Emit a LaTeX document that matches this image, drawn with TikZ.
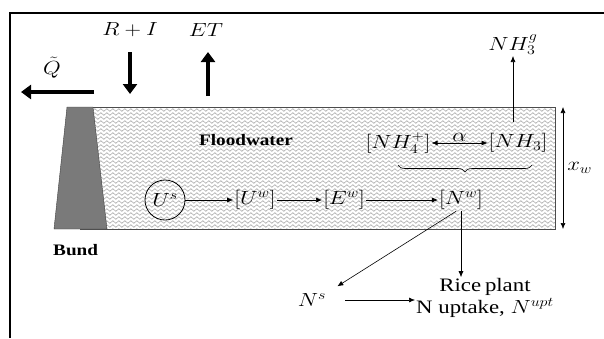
\RequirePackage{fix-cm}
\documentclass[tikz,border=0pt]{standalone}
\usepackage{amsmath}
\usepackage{graphicx}
\usepackage{fontspec}
\setmainfont{Liberation Serif}
\usetikzlibrary{arrows.meta,positioning,decorations.pathmorphing,decorations.pathreplacing}
\newcommand{\widetxt}[1]{\scalebox{1.2}[1]{#1}}
\tikzset{
  conc/.style = {inner sep=1pt, font=\fontsize{19}{22}\selectfont},
  lbl/.style = {inner sep=1pt, font=\fontsize{19}{22}\selectfont},
  tag/.style = {inner sep=1pt, font=\fontsize{16}{19}\selectfont\bfseries},
  pool/.style = {circle, draw, thick, minimum size=40pt, inner sep=0pt, font=\fontsize{19}{22}\selectfont},
  flow/.style = {semithick, -{Latex[length=6pt,width=5pt]}},
  twoway/.style = {semithick, {Latex[length=6pt,width=5pt]}-{Latex[length=6pt,width=5pt]}},
  bigflow/.style = {line width=4.5pt, -{Triangle[length=10pt,width=14pt]}},
  wave/.style = {gray!75, line width=0.5pt, decorate, decoration={snake, segment length=6pt, amplitude=1.3pt}}
}
\begin{document}
\begin{tikzpicture}[x=1pt, y=-1pt]
\useasboundingbox (0,0) rectangle (604,338);
% frame
\draw[line width=1.5pt] (10,338) -- (10,13) -- (604,13);
% floodwater
\begin{scope}
  \clip (80,107) rectangle (555,229);
  \foreach \yy in {106,110,...,234}
    \draw[wave] (75,\yy) -- (560,\yy);
\end{scope}
\draw[gray!60!black, thick] (80,107) rectangle (555,229);
% bund
\draw[fill=black!52, draw=black!75] (54,229) -- (67,107) -- (93,107) -- (107,229) -- cycle;
\node[tag, anchor=west] (bund) at (52,250) {\widetxt{Bund}};
\node[tag] (flood) at (246,140) {\widetxt{Floodwater}};

% water balance
\node[lbl] (ri) at (130,30) {\widetxt{$R+I$}};
\node[lbl] (et) at (206,30) {\widetxt{$ET$}};
\node[lbl] (q) at (52,68) {\widetxt{$\tilde{Q}$}};
\coordinate (ri1) at (130,52);
\coordinate (ri2) at (130,94);
\coordinate (et1) at (208,96);
\coordinate (et2) at (208,52);
\coordinate (q1) at (94,92);
\coordinate (q2) at (21,92);
\draw[bigflow] (ri1) -- (ri2);
\draw[bigflow] (et1) -- (et2);
\draw[bigflow] (q1) -- (q2);

% nitrogen pools
\node[pool] (us) at (165,200) {\widetxt{$U^s$}};
\node[conc] (uw) at (255,200) {\widetxt{$[U^w]$}};
\node[conc] (ew) at (344,200) {\widetxt{$[E^w]$}};
\node[conc] (nw) at (461,200) {\widetxt{$[N^w]$}};
\node[conc] (nh4) at (398,143) {\widetxt{$[NH_4^+]$}};
\node[conc] (nh3) at (518,143) {\widetxt{$[NH_3]$}};
\node[lbl] (nh3g) at (513,45) {\widetxt{$NH_3^g$}};
\node[lbl] (ns) at (312,300) {\widetxt{$N^s$}};
\node[lbl, align=center] (rice) at (485,298) {\widetxt{Rice\,plant}\\\widetxt{N uptake, $N^{upt}$}};

\draw[flow] (us) -- (uw);
\draw[flow] (uw) -- (ew);
\draw[flow] (ew) -- (nw);
\draw[twoway] (nh4) -- node[lbl, above=0pt] {\widetxt{$\alpha$}} (nh3);
\draw[semithick, decorate, decoration={brace, mirror, amplitude=7pt}] (398,165) -- (532,165);
\draw[flow, shorten <=10pt] (nh3.north -| nh3g) -- (nh3g.south);
\draw[flow] (nw.south) -- (nw.south |- rice.north);
\draw[flow, shorten <=1pt] ([xshift=-4pt]nw.south) -- ([xshift=10pt,yshift=6pt]ns.north east);
\draw[flow, shorten <=18pt] (ns.east) -- (ns.east -| rice.west);

% depth
\coordinate (wt) at (563,107);
\coordinate (wb) at (563,229);
\draw[twoway] (wt) -- node[lbl, right=3pt] {\widetxt{$x_w$}} (wb);
\end{tikzpicture}
\end{document}
